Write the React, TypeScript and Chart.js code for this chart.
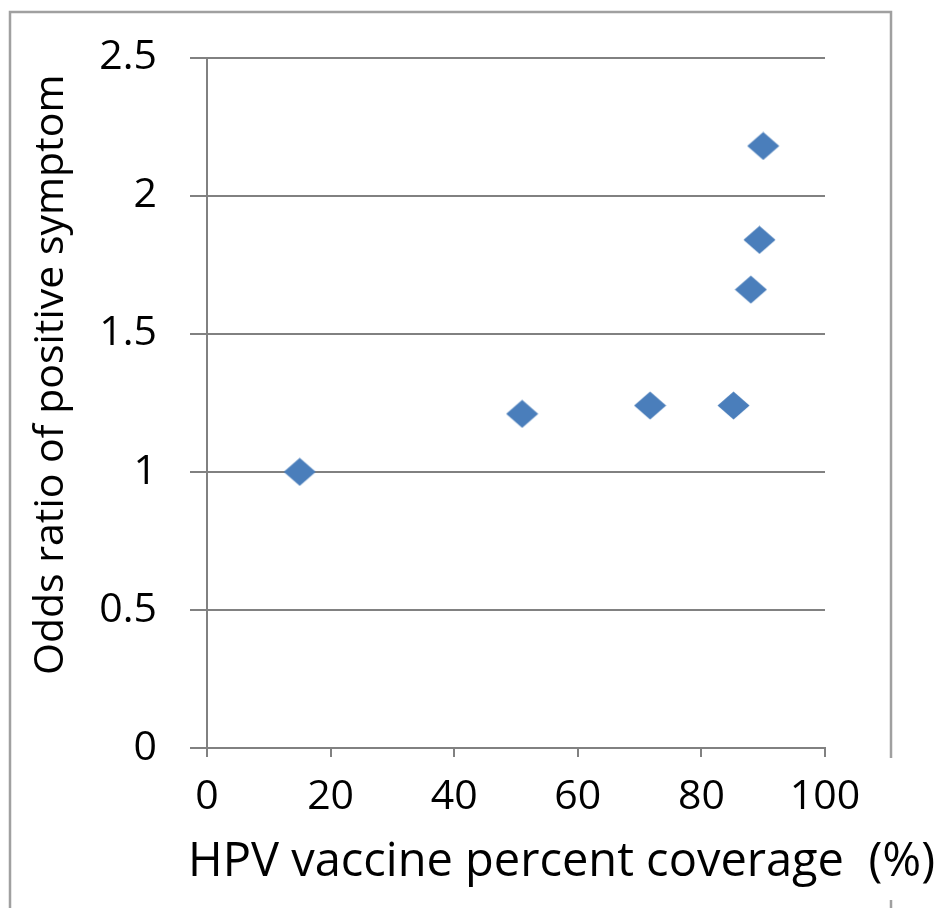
import React, { useEffect, useRef } from "react";
import { Chart, registerables } from "chart.js";

Chart.register(...registerables);

// Data
const coverage = [15, 51, 71.7, 85.2, 88, 89.4, 90];
const oddsRatio = [1.0, 1.21, 1.24, 1.24, 1.66, 1.84, 2.18];

const xTicks = [0, 20, 40, 60, 80, 100];
const yTicks = [0, 0.5, 1, 1.5, 2, 2.5];
const yTickLabels = ["0", "0.5", "1", "1.5", "2", "2.5"];
const xTickLabels = ["0", "20", "40", "60", "80", "100"];

const xTitle = "HPV vaccine percent coverage  (%)";
const yTitle = "Odds ratio of positive symptom";

const FONT = "'Open Sans', 'Noto Sans', sans-serif";
const GRID = "#818181";
const FRAME = "#a0a0a0";
const MARKER = "#4a7ebb";

function makeDiamond(): HTMLCanvasElement {
  const w = 33;
  const h = 29;
  const c = document.createElement("canvas");
  c.width = w;
  c.height = h;
  const ctx = c.getContext("2d")!;
  ctx.fillStyle = MARKER;
  ctx.beginPath();
  ctx.moveTo(0.5, h / 2);
  ctx.lineTo(w / 2, 0.5);
  ctx.lineTo(w - 0.5, h / 2);
  ctx.lineTo(w / 2, h - 0.5);
  ctx.closePath();
  ctx.fill();
  return c;
}

const decorPlugin = {
  id: "decor",
  beforeDraw(chart: any) {
    const ctx = chart.ctx as CanvasRenderingContext2D;
    ctx.save();
    ctx.fillStyle = "#ffffff";
    ctx.fillRect(0, 0, chart.width, chart.height);
    // outer frame
    ctx.strokeStyle = FRAME;
    ctx.lineWidth = 2.5;
    ctx.beginPath();
    ctx.moveTo(10, chart.height + 10);
    ctx.lineTo(10, 12);
    ctx.lineTo(891, 12);
    ctx.lineTo(891, chart.height + 10);
    ctx.stroke();
    // white box behind x-axis title
    ctx.fillStyle = "#ffffff";
    ctx.fillRect(180, 758, chart.width - 180, 142);
    ctx.restore();
  },
  afterDraw(chart: any) {
    const ctx = chart.ctx as CanvasRenderingContext2D;
    const area = chart.chartArea;
    ctx.save();
    ctx.fillStyle = "#000000";
    // x title
    ctx.font = `47px ${FONT}`;
    ctx.textAlign = "center";
    ctx.textBaseline = "alphabetic";
    ctx.fillText(xTitle, 561.5, 876);
    // y title
    ctx.font = `41px ${FONT}`;
    ctx.translate(63, (area.top + area.bottom) / 2 - 28);
    ctx.rotate(-Math.PI / 2);
    ctx.fillText(yTitle, 0, 0);
    ctx.restore();
  },
};

export default function App() {
  const ref = useRef<HTMLCanvasElement | null>(null);

  useEffect(() => {
    if (!ref.current) return;
    const diamond = makeDiamond();
    const chart = new Chart(ref.current, {
      type: "scatter",
      data: {
        datasets: [
          {
            label: "Odds ratio",
            data: coverage.map((x, i) => ({ x, y: oddsRatio[i] })),
            pointStyle: diamond as any,
            backgroundColor: MARKER,
            borderColor: MARKER,
            pointRadius: 16,
          },
        ],
      },
      options: {
        animation: false,
        responsive: false,
        devicePixelRatio: 1,
        events: [],
        layout: { padding: { left: 0, top: 57, right: 110, bottom: 0 } },
        plugins: {
          legend: { display: false },
          tooltip: { enabled: false },
          title: { display: false },
        },
        scales: {
          x: {
            type: "linear",
            min: 0,
            max: 100,
            afterBuildTicks: (scale: any) => {
              scale.ticks = xTicks.map((v) => ({ value: v }));
            },
            afterFit: (scale: any) => {
              scale.height = 160;
            },
            ticks: {
              callback: (v: any) => xTickLabels[xTicks.indexOf(Number(v))] ?? String(v),
              font: { family: FONT, size: 41 },
              color: "#000000",
              padding: 16,
              maxRotation: 0,
              autoSkip: false,
            },
            grid: {
              drawOnChartArea: false,
              drawTicks: true,
              tickLength: 9,
              color: GRID,
              lineWidth: 2,
            },
            border: { display: true, color: GRID, width: 2 },
          },
          y: {
            type: "linear",
            min: 0,
            max: 2.5,
            afterBuildTicks: (scale: any) => {
              scale.ticks = yTicks.map((v) => ({ value: v }));
            },
            afterFit: (scale: any) => {
              scale.width = 207;
            },
            ticks: {
              callback: (v: any) => yTickLabels[yTicks.indexOf(Number(v))] ?? String(v),
              font: { family: FONT, size: 41 },
              color: "#000000",
              padding: 33,
              autoSkip: false,
            },
            grid: {
              drawOnChartArea: true,
              drawTicks: true,
              tickLength: 17,
              color: GRID,
              lineWidth: 2,
            },
            border: { display: true, color: GRID, width: 2 },
          },
        },
      },
      plugins: [decorPlugin],
    });
    return () => chart.destroy();
  }, []);

  return (
    <div style={{ position: "absolute", left: 0, top: 0, width: 935, height: 908 }}>
      <canvas ref={ref} width={935} height={908} style={{ display: "block" }} />
    </div>
  );
}
